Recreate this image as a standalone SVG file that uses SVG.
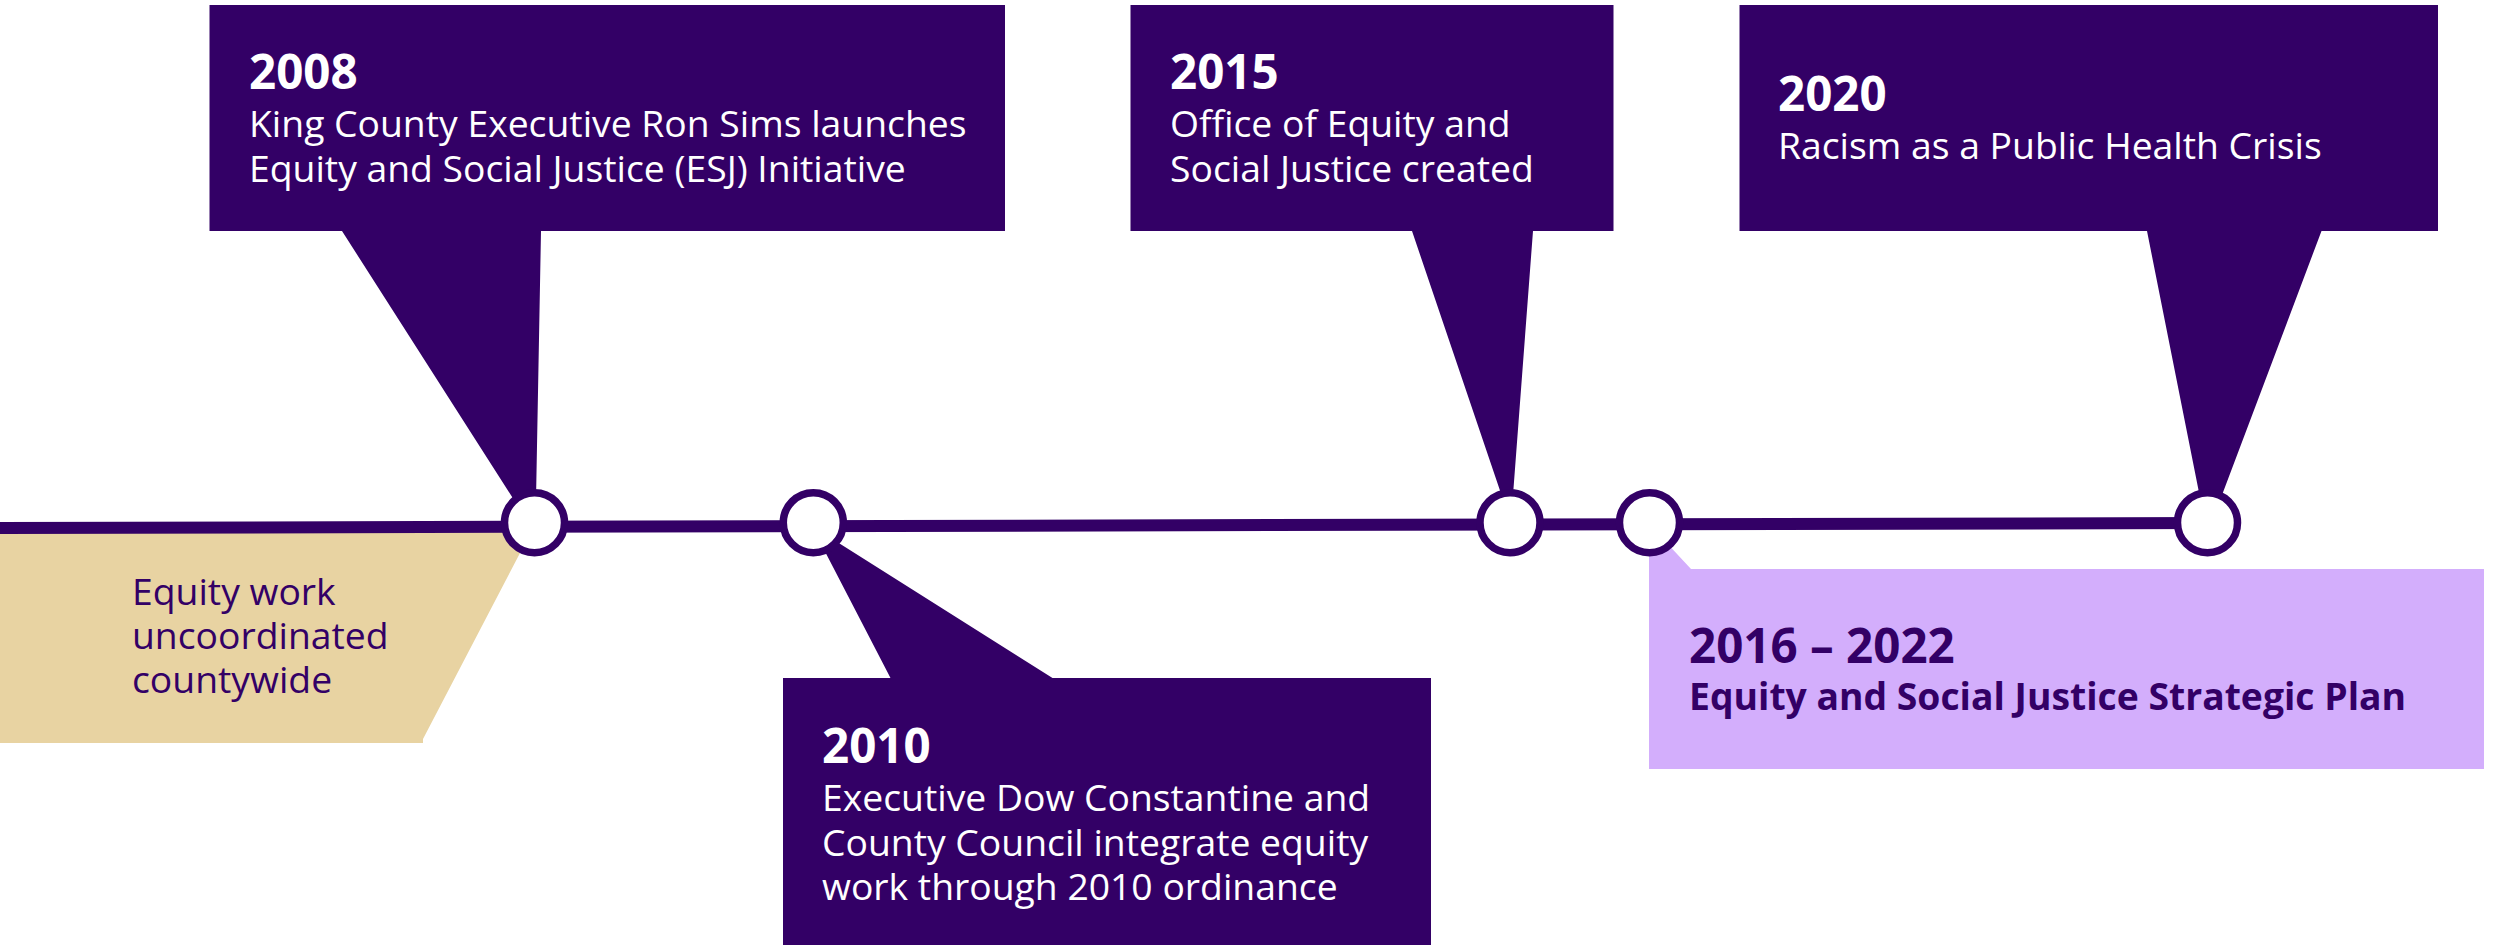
<svg xmlns="http://www.w3.org/2000/svg" width="2503" height="945" viewBox="0 0 2503 945">
  <style>
    .box { fill: #330066; }
    .year { font-family: "Open Sans", "Noto Sans", sans-serif; font-weight: 700; font-size: 47.5px; fill: #ffffff; }
    .desc { font-family: "Open Sans", "Noto Sans", sans-serif; font-weight: 400; font-size: 37.3px; fill: #ffffff; }
    .dark { fill: #330066; }
    .bold { font-weight: 700; }
    .node { fill: #ffffff; stroke: #330066; stroke-width: 7.5; }
  </style>

  <rect width="2503" height="945" fill="#ffffff"/>

  <!-- Period before the initiative -->
  <g id="before-2008">
    <polygon points="0,532 531,532 423,739 423,743 0,743" fill="#E8D3A2"/>
    <text class="desc dark" x="132" y="605">Equity work</text>
    <text class="desc dark" x="132" y="649">uncoordinated</text>
    <text class="desc dark" x="132" y="693">countywide</text>
  </g>

  <!-- Strategic plan period -->
  <g id="plan-2016-2022">
    <polygon points="1649,540 1664,540 1691,569 2484,569 2484,769 1649,769" fill="#D3AEFC"/>
    <text class="year dark" x="1689" y="663">2016 – 2022</text>
    <text class="desc dark bold" x="1689" y="710">Equity and Social Justice Strategic Plan</text>
  </g>

  <!-- Timeline -->
  <g id="connectors">
    <line x1="0" y1="528" x2="2207" y2="523" stroke="#330066" stroke-width="12"/>
  </g>

  <g id="event-2008">
    <polygon class="box" points="209.5,5 1005,5 1005,231 541,231 536,500 514,500 342,231 209.5,231"/>
    <text class="year" x="249" y="89">2008</text>
    <text class="desc" x="249" y="137">King County Executive Ron Sims launches</text>
    <text class="desc" x="249" y="182">Equity and Social Justice (ESJ) Initiative</text>
  </g>

  <g id="event-2010">
    <polygon class="box" points="819,540 834,540 1052.5,678 1431,678 1431,945 783,945 783,678 890.5,678"/>
    <text class="year" x="822" y="763">2010</text>
    <text class="desc" x="822" y="811">Executive Dow Constantine and</text>
    <text class="desc" x="822" y="856">County Council integrate equity</text>
    <text class="desc" x="822" y="900">work through 2010 ordinance</text>
  </g>

  <g id="event-2015">
    <polygon class="box" points="1130.5,5 1613.5,5 1613.5,231 1533,231 1513,495 1501.5,495 1412,231 1130.5,231"/>
    <text class="year" x="1170" y="89">2015</text>
    <text class="desc" x="1170" y="137">Office of Equity and</text>
    <text class="desc" x="1170" y="182">Social Justice created</text>
  </g>

  <g id="event-2020">
    <polygon class="box" points="1739.5,5 2438,5 2438,231 2321.5,231 2222,495 2199.5,495 2147,231 1739.5,231"/>
    <text class="year" x="1778" y="111">2020</text>
    <text class="desc" x="1778" y="159">Racism as a Public Health Crisis</text>
  </g>

  <!-- Timeline markers -->
  <g id="markers">
    <circle class="node" cx="534.5" cy="522.7" r="30"/>
    <circle class="node" cx="813.3" cy="522.7" r="30"/>
    <circle class="node" cx="1510" cy="522.7" r="30"/>
    <circle class="node" cx="1649.5" cy="522.7" r="30"/>
    <circle class="node" cx="2207.5" cy="522.7" r="30"/>
  </g>
</svg>
